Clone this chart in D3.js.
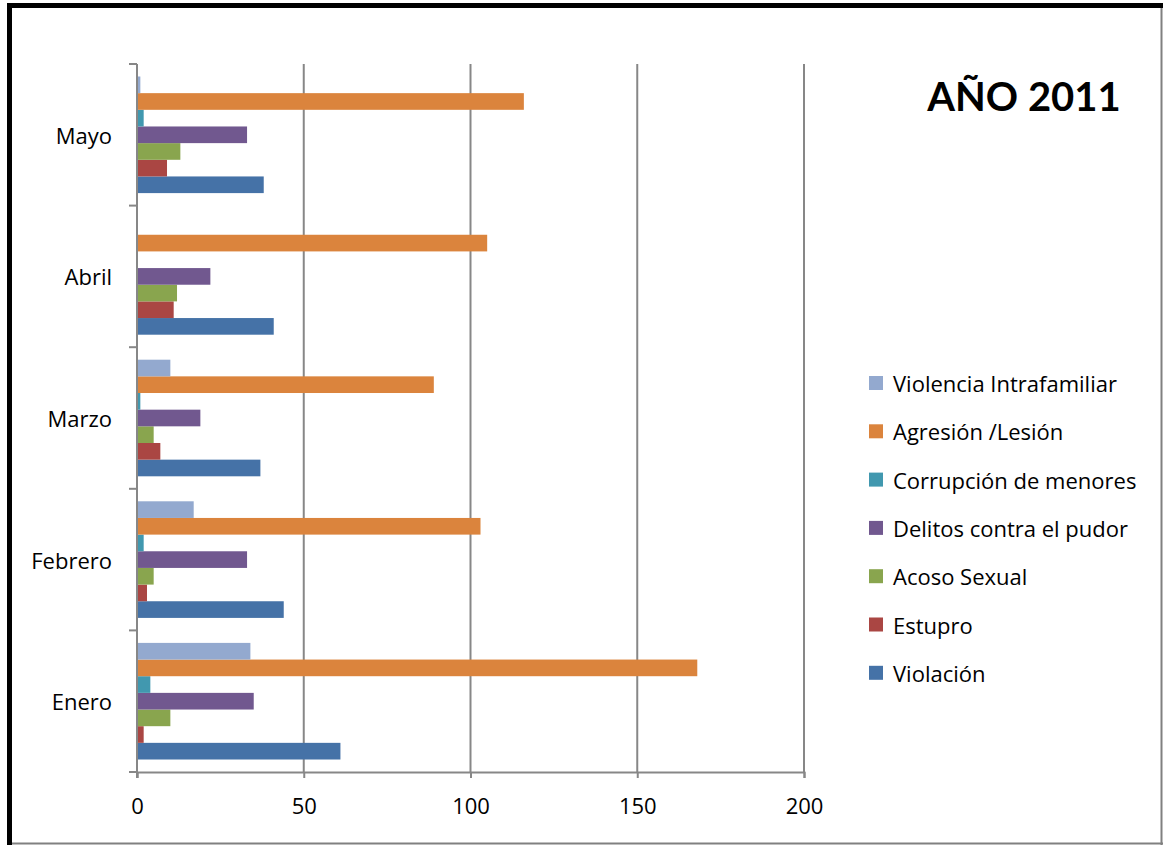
<!DOCTYPE html>
<html>
<head>
<meta charset="utf-8">
<script src="https://cdn.jsdelivr.net/npm/d3@7"></script>
<style>
  html, body { margin: 0; padding: 0; background: #fff; }
  svg { display: block; font-family: "Open Sans", Lato, sans-serif; }
</style>
</head>
<body>
<svg id="chart" width="1163" height="845"></svg>
<script>
// Monthly case counts, 2011
const months = ["Enero", "Febrero", "Marzo", "Abril", "Mayo"];
const seriesNames = [
  "Violación",
  "Estupro",
  "Acoso Sexual",
  "Delitos contra el pudor",
  "Corrupción de menores",
  "Agresión /Lesión",
  "Violencia Intrafamiliar"
];
const violacion      = [61, 44, 37, 41, 38];
const estupro        = [2, 3, 7, 11, 9];
const acosoSexual    = [10, 5, 5, 12, 13];
const delitosPudor   = [35, 33, 19, 22, 33];
const corrupcion     = [4, 2, 1, 0, 2];
const agresion       = [168, 103, 89, 105, 116];
const violenciaIntra = [34, 17, 10, 0, 1];
const xTicks = [0, 50, 100, 150, 200];
const titleText = "AÑO 2011";

const seriesValues = [violacion, estupro, acosoSexual, delitosPudor, corrupcion, agresion, violenciaIntra];
const colors = ["#4572A7", "#AA4643", "#89A54E", "#71588F", "#4198AF", "#DB843D", "#93A9CF"];

const svg = d3.select("#chart");
const W = 1163, H = 845;
const labelFont = "'Open Sans', Lato, sans-serif";
const labelSize = 22;

// Frame
svg.append("rect").attr("x", 7).attr("y", 3).attr("width", W - 7).attr("height", 5).attr("fill", "#000");
svg.append("rect").attr("x", 7).attr("y", 3).attr("width", 5).attr("height", H - 3).attr("fill", "#000");
svg.append("line").attr("x1", W - 1.5).attr("x2", W - 1.5).attr("y1", 8).attr("y2", H).attr("stroke", "#808080").attr("stroke-width", 2);
svg.append("line").attr("x1", 12).attr("x2", W).attr("y1", H - 1.5).attr("y2", H - 1.5).attr("stroke", "#808080").attr("stroke-width", 2);

const plot = { left: 137, right: 804, top: 64, bottom: 772 };

const x = d3.scaleLinear().domain([0, 200]).range([plot.left, plot.right]);
const y = d3.scaleBand().domain(months).range([plot.bottom, plot.top]).padding(0);
const inner = d3.scaleBand()
  .domain(seriesNames.slice().reverse())
  .range([0, y.bandwidth()])
  .paddingInner(0)
  .paddingOuter(0.75);

const gridColor = "#878787";

// Vertical gridlines
svg.append("g").selectAll("line")
  .data(xTicks.filter(t => t > 0))
  .join("line")
  .attr("x1", d => x(d)).attr("x2", d => x(d))
  .attr("y1", plot.top).attr("y2", plot.bottom)
  .attr("stroke", gridColor).attr("stroke-width", 2);

// Bars
const groups = svg.append("g").selectAll("g")
  .data(months)
  .join("g")
  .attr("transform", m => `translate(0,${y(m)})`);

groups.selectAll("rect")
  .data((m, mi) => seriesNames.map((s, si) => ({ s, si, v: seriesValues[si][mi] })))
  .join("rect")
  .attr("x", x(0))
  .attr("y", d => inner(d.s))
  .attr("width", d => x(d.v) - x(0))
  .attr("height", inner.bandwidth())
  .attr("fill", d => colors[d.si]);

// X axis
const xAxis = d3.axisBottom(x).tickValues(xTicks).tickSize(6).tickPadding(20);
const gx = svg.append("g").attr("transform", `translate(0,${plot.bottom})`).call(xAxis);
gx.select(".domain").attr("stroke", gridColor).attr("stroke-width", 2);
gx.selectAll(".tick line").attr("stroke", gridColor).attr("stroke-width", 2);
gx.selectAll(".tick text").attr("font-size", labelSize).attr("fill", "#000").attr("font-family", labelFont);

// Y axis: line with ticks on category boundaries
svg.append("line")
  .attr("x1", plot.left).attr("x2", plot.left)
  .attr("y1", plot.top).attr("y2", plot.bottom + 6)
  .attr("stroke", gridColor).attr("stroke-width", 2);
const boundaries = months.map(m => y(m)).concat([plot.bottom]);
svg.append("g").selectAll("line")
  .data(boundaries)
  .join("line")
  .attr("x1", plot.left - 8).attr("x2", plot.left)
  .attr("y1", d => d).attr("y2", d => d)
  .attr("stroke", gridColor).attr("stroke-width", 2);

svg.append("g").selectAll("text")
  .data(months)
  .join("text")
  .attr("x", 112)
  .attr("y", m => y(m) + y.bandwidth() / 2)
  .attr("text-anchor", "end")
  .attr("dominant-baseline", "central")
  .attr("font-family", labelFont)
  .attr("font-size", labelSize)
  .attr("fill", "#000")
  .text(m => m);

// Title
svg.append("text")
  .attr("x", 1024).attr("y", 111)
  .attr("text-anchor", "middle")
  .attr("font-family", "Lato, 'Open Sans', sans-serif")
  .attr("font-size", 40)
  .attr("font-weight", "bold")
  .attr("fill", "#000")
  .text(titleText);

// Legend (last series on top)
const legendItems = seriesNames.map((s, i) => ({ s, i })).reverse();
const legend = svg.append("g").selectAll("g")
  .data(legendItems)
  .join("g")
  .attr("transform", (d, k) => `translate(869,${383 + k * 48.3})`);
legend.append("rect")
  .attr("x", 0).attr("y", -7).attr("width", 14).attr("height", 14)
  .attr("fill", d => colors[d.i]);
legend.append("text")
  .attr("x", 24).attr("y", 0)
  .attr("dominant-baseline", "central")
  .attr("font-family", labelFont)
  .attr("font-size", labelSize)
  .attr("fill", "#000")
  .text(d => d.s);
</script>
</body>
</html>
